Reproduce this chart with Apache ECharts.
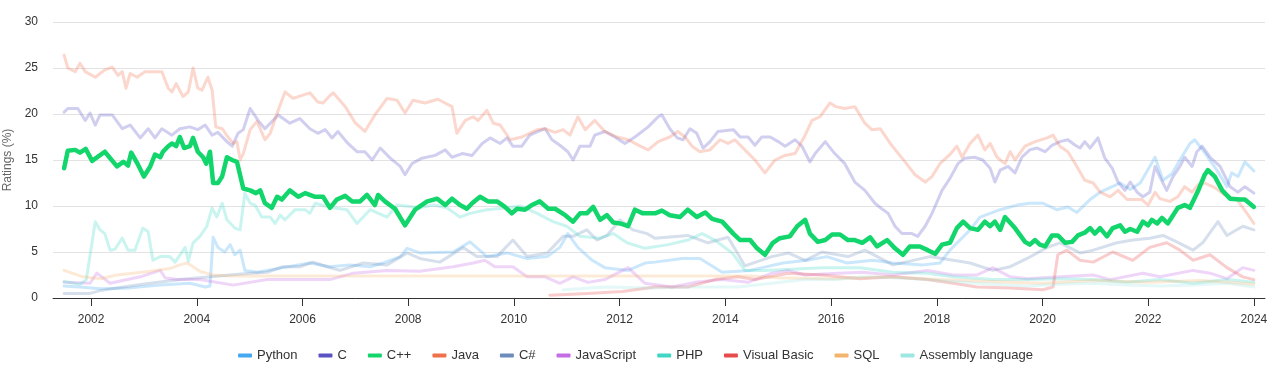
<!DOCTYPE html>
<html><head><meta charset="utf-8">
<script src="https://cdn.jsdelivr.net/npm/echarts@6/dist/echarts.min.js"></script>
<style>html,body{margin:0;padding:0;background:#fff}#c{width:1271px;height:371px}</style>
</head><body><div id="c"></div>
<script>
const yearTicks = [2002,2004,2006,2008,2010,2012,2014,2016,2018,2020,2022,2024];
const seriesNames = ['Python','C','C++','Java','C#','JavaScript','PHP','Visual Basic','SQL','Assembly language'];

const python = [[2001.49,1.3],[2001.79,1.2],[2002.17,1.0],[2002.74,1.1],[2003.31,1.4],[2003.87,1.6],[2004.16,1.2],[2004.25,1.3],[2004.31,6.6],[2004.40,5.5],[2004.53,5.0],[2004.63,5.8],[2004.72,4.7],[2004.82,5.2],[2004.91,3.0],[2005.14,2.8],[2005.63,3.3],[2006.14,3.8],[2006.52,3.4],[2006.90,3.6],[2007.28,3.4],[2007.52,3.8],[2007.85,4.5],[2007.98,5.4],[2008.22,4.9],[2008.85,5.0],[2009.17,6.1],[2009.49,4.5],[2009.87,4.9],[2010.25,4.3],[2010.63,4.5],[2010.87,5.5],[2011.02,7.0],[2011.21,5.5],[2011.48,4.1],[2011.72,3.3],[2012.16,3.0],[2012.48,3.8],[2012.67,3.9],[2013.18,4.3],[2013.52,4.3],[2013.94,2.8],[2014.47,3.0],[2015.09,3.8],[2015.55,4.1],[2015.92,4.5],[2016.30,3.8],[2016.79,4.1],[2017.17,3.8],[2017.74,3.6],[2018.06,3.8],[2018.25,5.2],[2018.44,6.3],[2018.63,7.4],[2018.82,8.8],[2019.20,9.6],[2019.52,10.1],[2019.76,10.3],[2020.01,10.3],[2020.27,9.6],[2020.48,9.9],[2020.65,9.3],[2020.90,10.7],[2021.09,11.5],[2021.28,12.0],[2021.47,12.5],[2021.66,11.8],[2021.85,12.5],[2022.00,14.0],[2022.13,15.3],[2022.28,12.8],[2022.45,13.5],[2022.60,15.0],[2022.79,16.8],[2022.88,17.2],[2023.03,16.1],[2023.30,13.9],[2023.49,12.1],[2023.58,13.6],[2023.70,13.2],[2023.83,14.8],[2024.00,13.8]];

const c = [[2001.49,20.2],[2001.56,20.6],[2001.75,20.6],[2001.89,19.3],[2001.98,20.1],[2002.08,18.8],[2002.17,19.9],[2002.40,19.9],[2002.59,18.4],[2002.74,18.8],[2002.93,17.4],[2003.08,18.4],[2003.21,17.4],[2003.34,18.4],[2003.53,17.7],[2003.68,18.4],[2003.87,18.6],[2004.02,18.3],[2004.16,18.8],[2004.29,17.7],[2004.40,18.0],[2004.57,17.0],[2004.67,16.5],[2004.78,17.9],[2004.88,18.3],[2005.01,20.6],[2005.16,19.3],[2005.29,18.4],[2005.54,19.9],[2005.76,19.0],[2005.95,19.5],[2006.14,18.4],[2006.29,17.9],[2006.43,18.3],[2006.56,17.4],[2006.67,18.1],[2006.86,16.8],[2007.03,15.9],[2007.18,15.9],[2007.32,15.0],[2007.47,16.3],[2007.66,15.2],[2007.85,14.3],[2007.94,13.4],[2008.07,14.6],[2008.26,15.2],[2008.51,15.5],[2008.70,16.1],[2008.83,15.3],[2009.02,15.7],[2009.21,15.5],[2009.40,16.8],[2009.55,17.4],[2009.74,16.8],[2009.87,17.4],[2009.98,16.5],[2010.15,16.5],[2010.30,17.7],[2010.46,18.1],[2010.59,18.4],[2010.72,17.2],[2010.87,16.6],[2011.02,15.9],[2011.12,15.0],[2011.25,16.5],[2011.44,16.5],[2011.53,17.7],[2011.72,18.1],[2011.91,17.5],[2012.10,16.8],[2012.29,17.5],[2012.54,18.6],[2012.73,19.7],[2012.80,19.9],[2012.95,18.4],[2013.09,17.4],[2013.20,17.2],[2013.33,18.4],[2013.46,17.9],[2013.58,16.3],[2013.71,17.0],[2013.86,18.1],[2014.15,18.3],[2014.28,17.5],[2014.43,17.5],[2014.56,16.6],[2014.69,17.5],[2014.85,17.5],[2015.00,17.0],[2015.13,16.5],[2015.32,17.2],[2015.45,16.5],[2015.60,14.8],[2015.70,15.7],[2015.89,17.0],[2016.07,15.7],[2016.26,14.6],[2016.45,12.6],[2016.64,11.7],[2016.83,10.3],[2016.96,9.7],[2017.08,9.2],[2017.21,7.8],[2017.34,7.0],[2017.53,7.0],[2017.64,6.7],[2017.78,7.8],[2017.91,9.2],[2018.10,11.7],[2018.25,13.0],[2018.40,14.6],[2018.53,15.2],[2018.72,15.3],[2018.87,15.0],[2019.01,14.1],[2019.10,12.6],[2019.20,13.9],[2019.35,14.3],[2019.48,13.6],[2019.61,15.3],[2019.76,16.1],[2019.90,16.3],[2020.05,15.9],[2020.18,16.6],[2020.33,17.0],[2020.48,17.2],[2020.62,16.6],[2020.71,16.3],[2020.80,17.0],[2020.90,16.3],[2021.05,17.4],[2021.18,15.2],[2021.32,14.1],[2021.43,12.6],[2021.56,11.7],[2021.66,12.6],[2021.79,11.5],[2021.90,11.0],[2022.03,11.5],[2022.13,14.3],[2022.22,13.2],[2022.35,11.7],[2022.47,13.2],[2022.60,14.3],[2022.69,15.3],[2022.83,14.3],[2022.92,15.9],[2023.02,16.5],[2023.17,15.3],[2023.36,14.3],[2023.55,12.1],[2023.70,11.5],[2023.83,12.1],[2024.00,11.4]];

const cpp = [[2001.49,14.1],[2001.56,16.0],[2001.70,16.1],[2001.79,15.8],[2001.90,16.2],[2002.02,14.9],[2002.26,15.9],[2002.49,14.3],[2002.61,14.8],[2002.70,14.4],[2002.76,15.8],[2002.87,14.7],[2003.00,13.2],[2003.12,14.3],[2003.21,15.6],[2003.31,15.3],[2003.36,15.9],[2003.46,16.5],[2003.53,16.8],[2003.61,16.5],[2003.68,17.5],[2003.76,16.3],[2003.87,16.5],[2003.93,17.4],[2004.02,15.9],[2004.12,15.3],[2004.18,14.6],[2004.25,15.9],[2004.31,12.5],[2004.40,12.5],[2004.48,13.2],[2004.57,15.3],[2004.67,15.0],[2004.76,14.8],[2004.88,11.9],[2005.01,11.7],[2005.12,11.4],[2005.20,11.7],[2005.29,10.3],[2005.42,9.8],[2005.52,11.0],[2005.61,10.7],[2005.76,11.7],[2005.92,11.0],[2006.05,11.4],[2006.24,11.0],[2006.39,11.0],[2006.52,9.8],[2006.65,10.7],[2006.81,11.1],[2006.94,10.5],[2007.09,10.5],[2007.22,11.2],[2007.37,10.1],[2007.43,11.2],[2007.56,10.5],[2007.75,9.7],[2007.94,7.9],[2008.13,9.6],[2008.36,10.5],[2008.55,10.8],[2008.70,10.1],[2008.83,10.8],[2008.98,10.1],[2009.11,9.7],[2009.21,10.3],[2009.36,11.0],[2009.51,10.5],[2009.68,10.5],[2009.83,9.9],[2009.96,9.2],[2010.06,9.7],[2010.21,9.6],[2010.34,10.1],[2010.49,10.5],[2010.65,9.7],[2010.78,9.7],[2010.97,9.0],[2011.12,8.3],[2011.25,9.2],[2011.38,9.2],[2011.50,9.9],[2011.63,8.5],[2011.76,9.0],[2011.88,8.2],[2012.01,8.1],[2012.16,7.8],[2012.29,9.6],[2012.44,9.2],[2012.54,9.2],[2012.67,9.2],[2012.80,9.5],[2012.95,9.0],[2013.14,8.8],[2013.29,9.6],[2013.46,8.8],[2013.62,9.3],[2013.75,8.6],[2013.94,8.3],[2014.15,7.0],[2014.28,6.3],[2014.47,6.3],[2014.60,5.4],[2014.75,4.7],[2014.90,6.0],[2015.03,6.5],[2015.22,6.7],[2015.36,7.8],[2015.51,8.5],[2015.60,7.0],[2015.75,6.1],[2015.89,6.3],[2016.02,6.9],[2016.17,6.9],[2016.32,6.3],[2016.45,6.3],[2016.59,6.0],[2016.74,6.6],[2016.87,5.6],[2017.06,6.3],[2017.21,5.4],[2017.36,4.7],[2017.49,5.6],[2017.68,5.6],[2017.83,5.2],[2017.97,4.8],[2018.10,5.8],[2018.25,6.0],[2018.38,7.6],[2018.50,8.3],[2018.63,7.6],[2018.78,7.4],[2018.91,8.3],[2019.01,7.8],[2019.10,8.3],[2019.20,7.4],[2019.29,8.8],[2019.48,7.6],[2019.67,6.1],[2019.76,5.8],[2019.86,6.3],[2019.95,5.8],[2020.05,5.6],[2020.18,6.8],[2020.29,6.8],[2020.43,6.0],[2020.56,6.1],[2020.67,6.8],[2020.80,7.1],[2020.90,7.6],[2020.99,7.0],[2021.09,7.6],[2021.22,6.7],[2021.33,7.6],[2021.47,7.9],[2021.56,7.2],[2021.66,7.5],[2021.79,7.2],[2021.90,8.3],[2022.00,7.9],[2022.07,8.5],[2022.17,8.1],[2022.26,8.7],[2022.37,8.1],[2022.45,8.8],[2022.56,9.8],[2022.69,10.1],[2022.79,9.8],[2022.94,11.6],[2023.07,13.4],[2023.13,13.9],[2023.26,13.2],[2023.40,11.7],[2023.55,10.8],[2023.74,10.7],[2023.83,10.7],[2024.00,9.9]];

const java = [[2001.49,26.4],[2001.56,25.0],[2001.70,24.6],[2001.79,25.5],[2001.89,24.6],[2002.08,24.0],[2002.26,24.8],[2002.40,25.1],[2002.51,24.2],[2002.59,24.6],[2002.66,22.8],[2002.74,24.4],[2002.87,24.0],[2003.02,24.6],[2003.21,24.6],[2003.34,24.6],[2003.46,22.8],[2003.53,22.4],[2003.61,23.3],[2003.74,21.9],[2003.84,22.4],[2003.93,25.0],[2004.02,22.8],[2004.10,22.6],[2004.21,24.0],[2004.29,22.6],[2004.36,18.6],[2004.48,18.4],[2004.59,17.5],[2004.69,16.8],[2004.76,17.0],[2004.82,15.0],[2004.88,15.7],[2005.01,18.3],[2005.14,19.2],[2005.29,17.2],[2005.39,17.9],[2005.54,20.4],[2005.67,22.4],[2005.82,21.7],[2006.14,22.3],[2006.29,21.3],[2006.39,21.2],[2006.52,22.0],[2006.58,22.3],[2006.81,20.8],[2006.99,19.1],[2007.18,18.1],[2007.37,19.9],[2007.60,21.7],[2007.79,21.5],[2007.94,20.1],[2008.09,21.5],[2008.32,21.2],[2008.56,21.6],[2008.83,20.8],[2008.92,17.9],[2009.08,19.3],[2009.23,19.7],[2009.32,19.3],[2009.49,20.4],[2009.61,19.0],[2009.74,18.8],[2009.93,17.2],[2010.15,17.5],[2010.44,18.3],[2010.59,18.4],[2010.78,18.0],[2010.93,18.3],[2011.06,17.7],[2011.21,19.7],[2011.35,18.3],[2011.53,19.3],[2011.72,18.1],[2011.95,17.5],[2012.16,17.2],[2012.39,16.5],[2012.54,16.1],[2012.73,17.0],[2012.95,17.5],[2013.10,18.1],[2013.24,17.5],[2013.37,16.5],[2013.52,15.9],[2013.71,16.1],[2013.90,17.2],[2014.05,16.8],[2014.18,17.2],[2014.37,16.1],[2014.56,15.0],[2014.75,13.6],[2014.94,15.0],[2015.13,15.5],[2015.32,15.7],[2015.51,17.7],[2015.64,19.3],[2015.79,19.7],[2015.98,21.2],[2016.09,20.8],[2016.26,20.6],[2016.45,20.8],[2016.64,19.0],[2016.77,18.3],[2016.93,18.4],[2017.12,16.8],[2017.40,14.8],[2017.59,13.4],[2017.78,12.6],[2017.91,13.2],[2018.06,14.6],[2018.25,15.6],[2018.38,16.5],[2018.48,15.3],[2018.63,16.8],[2018.78,17.7],[2018.91,16.1],[2019.01,16.8],[2019.14,15.3],[2019.29,14.6],[2019.39,15.9],[2019.48,15.0],[2019.67,16.5],[2019.86,17.0],[2020.09,17.4],[2020.20,17.7],[2020.33,16.5],[2020.48,15.9],[2020.62,14.6],[2020.80,12.8],[2020.96,12.5],[2021.09,11.5],[2021.28,11.0],[2021.43,11.7],[2021.60,10.7],[2021.88,10.7],[2022.00,10.1],[2022.13,11.5],[2022.22,10.8],[2022.41,10.5],[2022.56,11.0],[2022.69,12.1],[2022.83,11.5],[2022.94,12.3],[2023.07,12.5],[2023.26,12.0],[2023.45,11.2],[2023.68,10.7],[2023.87,9.2],[2024.00,8.1]];

const csharp = [[2001.49,0.5],[2001.98,0.5],[2002.17,0.8],[2002.74,1.3],[2003.12,1.6],[2003.68,2.0],[2004.06,2.2],[2004.63,2.5],[2005.01,2.7],[2005.33,2.8],[2005.63,3.4],[2005.95,3.4],[2006.20,3.9],[2006.46,3.4],[2006.71,3.0],[2007.15,3.8],[2007.60,3.6],[2007.98,4.9],[2008.22,4.3],[2008.60,3.9],[2009.04,5.5],[2009.30,4.5],[2009.68,4.5],[2009.98,6.3],[2010.25,4.5],[2010.63,4.9],[2010.93,6.7],[2011.12,6.7],[2011.38,7.4],[2011.57,6.3],[2011.76,6.8],[2012.01,8.5],[2012.25,7.4],[2012.52,7.0],[2012.67,6.5],[2013.29,6.8],[2013.67,6.0],[2014.05,6.6],[2014.37,3.5],[2014.88,4.5],[2015.19,4.9],[2015.51,4.1],[2015.83,5.0],[2016.32,4.5],[2016.64,5.2],[2017.17,3.6],[2017.87,4.5],[2018.63,3.8],[2019.06,3.0],[2019.39,3.4],[2019.71,4.3],[2020.09,5.5],[2020.33,6.0],[2020.71,4.9],[2020.96,5.2],[2021.41,6.0],[2021.71,6.3],[2022.03,6.5],[2022.28,6.8],[2022.54,6.1],[2022.85,5.2],[2023.03,6.0],[2023.32,8.3],[2023.49,6.8],[2023.79,7.8],[2024.00,7.4]];

const javascript = [[2001.49,1.7],[2001.98,1.6],[2002.11,2.7],[2002.36,1.6],[2002.93,2.3],[2003.31,3.0],[2003.40,2.2],[2003.63,2.0],[2004.06,2.0],[2004.69,1.4],[2005.33,2.0],[2005.95,2.0],[2006.52,2.0],[2006.96,2.7],[2007.60,3.0],[2008.22,2.9],[2008.85,3.4],[2009.23,3.8],[2009.45,4.1],[2009.64,3.4],[2009.98,3.4],[2010.25,2.3],[2010.59,2.3],[2010.87,1.6],[2011.12,2.3],[2011.40,1.7],[2011.72,2.0],[2012.16,3.3],[2012.48,1.6],[2012.99,1.2],[2013.43,1.7],[2013.94,2.0],[2014.43,1.7],[2014.88,2.7],[2015.19,3.0],[2015.51,2.5],[2016.13,2.7],[2016.59,2.8],[2017.17,2.5],[2017.82,3.0],[2018.31,2.5],[2018.76,2.5],[2019.06,3.3],[2019.39,2.3],[2019.71,2.1],[2020.33,2.3],[2020.96,2.5],[2021.28,2.0],[2021.90,2.7],[2022.22,2.3],[2022.85,3.0],[2023.17,2.7],[2023.49,2.1],[2023.79,3.3],[2024.00,3.0]];

const php = [[2001.49,1.8],[2001.79,1.5],[2001.91,2.0],[2002.08,8.3],[2002.17,7.4],[2002.26,7.0],[2002.36,5.2],[2002.45,5.3],[2002.59,6.5],[2002.70,5.2],[2002.83,5.2],[2002.98,7.6],[2003.08,7.2],[2003.17,4.1],[2003.31,4.5],[2003.49,4.5],[2003.59,3.9],[2003.78,5.5],[2003.84,4.0],[2003.93,6.0],[2004.06,6.7],[2004.19,7.8],[2004.29,9.8],[2004.38,8.8],[2004.48,10.3],[2004.57,8.5],[2004.72,7.6],[2004.82,7.4],[2004.91,11.4],[2005.01,10.3],[2005.10,10.1],[2005.23,8.8],[2005.39,8.8],[2005.48,8.1],[2005.58,9.0],[2005.67,8.5],[2005.86,9.6],[2006.05,9.6],[2006.14,9.2],[2006.24,10.3],[2006.37,10.1],[2006.58,9.8],[2006.84,9.6],[2007.03,8.1],[2007.28,9.6],[2007.60,8.8],[2007.79,10.1],[2008.22,9.8],[2008.47,10.1],[2008.73,9.8],[2008.98,8.8],[2009.17,9.2],[2009.49,9.6],[2009.87,9.8],[2010.12,10.0],[2010.44,9.2],[2010.74,8.3],[2011.00,7.8],[2011.25,6.7],[2011.63,6.5],[2011.88,7.0],[2012.14,6.0],[2012.48,5.4],[2012.92,5.8],[2013.29,6.3],[2013.56,7.0],[2013.80,6.3],[2014.13,4.9],[2014.37,3.0],[2014.75,3.0],[2015.83,3.3],[2016.55,3.3],[2017.17,2.8],[2017.82,2.7],[2018.31,2.3],[2019.06,2.0],[2019.71,2.0],[2020.33,2.1],[2020.96,2.0],[2021.60,1.7],[2022.22,2.0],[2022.85,1.6],[2023.49,2.0],[2024.00,1.7]];

const visualBasic = [[2010.68,0.3],[2011.40,0.5],[2012.05,0.7],[2012.67,1.2],[2013.29,1.2],[2013.80,2.0],[2014.24,2.3],[2014.56,2.0],[2015.19,2.7],[2015.83,2.5],[2016.55,2.1],[2017.17,2.3],[2017.82,2.0],[2018.31,1.6],[2018.76,1.2],[2019.39,1.1],[2020.01,0.9],[2020.20,1.2],[2020.29,4.7],[2020.46,5.2],[2020.71,4.1],[2020.96,3.9],[2021.33,5.0],[2021.71,4.1],[2022.03,5.5],[2022.35,6.0],[2022.60,5.2],[2022.85,4.1],[2023.17,4.7],[2023.49,3.3],[2023.79,2.3],[2024.00,2.0]];

const sql = [[2001.49,3.0],[2001.85,2.3],[2002.17,2.1],[2002.49,2.5],[2002.79,2.7],[2003.12,2.9],[2003.49,3.2],[2003.68,3.6],[2003.82,3.8],[2004.06,2.9],[2004.31,2.5],[2004.63,2.4],[2014.47,2.4],[2015.00,2.2],[2016.00,2.1],[2017.00,2.3],[2018.00,2.0],[2019.00,1.8],[2020.00,1.6],[2021.00,1.9],[2022.00,1.7],[2023.00,1.9],[2024.00,1.5]];

const assembly = [[2010.93,0.9],[2011.72,1.2],[2012.67,1.1],[2013.29,1.2],[2014.24,1.2],[2014.88,1.6],[2015.51,2.0],[2016.13,2.0],[2016.59,2.3],[2017.17,2.2],[2017.82,2.0],[2018.31,1.8],[2019.06,1.5],[2019.71,1.3],[2020.33,1.5],[2020.96,1.6],[2021.60,1.4],[2022.22,1.3],[2022.85,1.4],[2023.49,1.6],[2024.00,1.2]];

const seriesData = [python, c, cpp, java, csharp, javascript, php, visualBasic, sql, assembly];
const seriesColors = ['#45a9ef','#5b53c4','#12d56c','#f0704a','#6d8cbc','#c66de6','#3fd6c4','#e84b4b','#f5b46e','#9ee6e1'];
const highlighted = 'C++';

const chart = echarts.init(document.getElementById('c'), null, {renderer: 'canvas'});
chart.setOption({
  animation: false,
  backgroundColor: '#fff',
  grid: {left: 53, right: 6, top: 22, bottom: 73, containLabel: false, outerBoundsMode: 'none'},
  legend: {
    data: seriesNames,
    bottom: 4,
    left: 'center',
    icon: 'roundRect',
    itemWidth: 14,
    itemHeight: 4,
    itemGap: 21,
    textStyle: {color: '#333', fontSize: 13, fontFamily: 'Liberation Sans, Arial, sans-serif'}
  },
  xAxis: {
    type: 'value',
    min: 2001.28,
    max: 2024.21,
    axisLine: {show: true, lineStyle: {color: '#333'}},
    axisTick: {show: true, length: 8, customValues: yearTicks, lineStyle: {color: '#333'}},
    axisLabel: {customValues: yearTicks, formatter: v => String(Math.round(v)), color: '#333', fontSize: 12, margin: 16, fontFamily: 'Liberation Sans, Arial, sans-serif'},
    splitLine: {show: false}
  },
  yAxis: {
    type: 'value',
    min: 0, max: 30, interval: 5,
    name: 'Ratings (%)',
    nameLocation: 'middle',
    nameGap: 35,
    nameTextStyle: {color: '#666', fontSize: 12, fontFamily: 'Liberation Sans, Arial, sans-serif'},
    axisLine: {show: false},
    axisTick: {show: false},
    axisLabel: {color: '#333', fontSize: 12, margin: 15, fontFamily: 'Liberation Sans, Arial, sans-serif'},
    splitLine: {lineStyle: {color: '#e3e3e3'}}
  },
  series: seriesNames.map((name, i) => {
    const hi = name === highlighted;
    return {
      name: name,
      type: 'line',
      data: seriesData[i],
      showSymbol: false,
      symbol: 'none',
      z: hi ? 10 : 2,
      color: seriesColors[i],
      itemStyle: {color: seriesColors[i]},
      lineStyle: {color: seriesColors[i], width: hi ? 4.5 : 3, opacity: hi ? 1 : 0.28, cap: 'round', join: 'round'},
      emphasis: {disabled: true}
    };
  })
});
</script>
</body></html>
